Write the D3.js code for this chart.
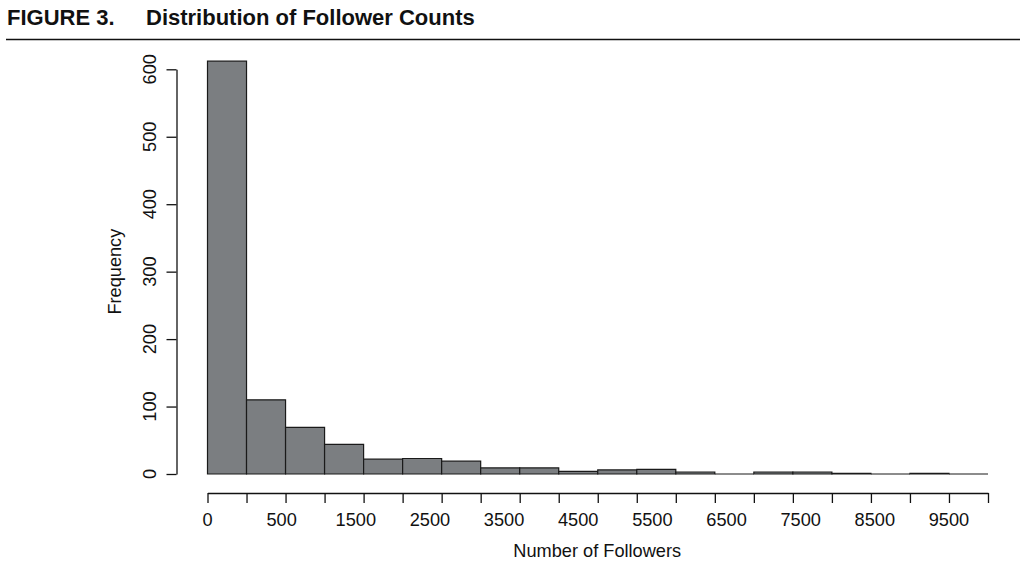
<html>
<head>
  <style>
    body {
        margin: 0;
        background: #ffffff;
        font-family: "Liberation Sans", Arial, Helvetica, sans-serif;
    }
  </style>
</head>
<body>
  <svg id="chart" width="1020" height="585"></svg>

  <script src="https://d3js.org/d3.v7.min.js"></script>
  <script>
    // histogram bins of follower counts (lower edge, upper edge, count)
    var binLow  = [0, 500, 1000, 1500, 2000, 2500, 3000, 3500, 4000, 4500,
                   5000, 5500, 6000, 6500, 7000, 7500, 8000, 8500, 9000, 9500];
    var binHigh = [500, 1000, 1500, 2000, 2500, 3000, 3500, 4000, 4500, 5000,
                   5500, 6000, 6500, 7000, 7500, 8000, 8500, 9000, 9500, 10000];
    var counts  = [612, 110, 69, 44, 22, 23, 19, 9, 9, 4,
                   6, 7, 3, 0, 3, 3, 1, 0, 1, 0];

    var xTicks = [0, 500, 1000, 1500, 2000, 2500, 3000, 3500, 4000, 4500, 5000,
                  5500, 6000, 6500, 7000, 7500, 8000, 8500, 9000, 9500, 10000];
    var xTickLabels = ["0", "500", "1500", "2500", "3500", "4500",
                       "5500", "6500", "7500", "8500", "9500"];
    var yTicks = [0, 100, 200, 300, 400, 500, 600];

    var svg = d3.select("#chart");
    var FS = 18.2;

    // header
    svg.append("text")
      .attr("x", 7).attr("y", 25)
      .attr("font-size", 22).attr("font-weight", "bold")
      .attr("fill", "#111")
      .text("FIGURE 3.");
    svg.append("text")
      .attr("x", 146).attr("y", 25)
      .attr("font-size", 22).attr("font-weight", "bold")
      .attr("fill", "#111")
      .text("Distribution of Follower Counts");
    svg.append("line")
      .attr("x1", 6).attr("x2", 1020)
      .attr("y1", 39.5).attr("y2", 39.5)
      .attr("stroke", "#111").attr("stroke-width", 1.3);

    var x = d3.scaleLinear().domain([0, 10000]).range([207.5, 988]);
    var y = d3.scaleLinear().domain([0, 600]).range([474, 69.3]);

    // bars (paths so that empty bins still draw their flat outline)
    svg.append("g").selectAll("path")
      .data(counts)
      .enter().append("path")
      .attr("d", function(d, i) {
        var x0 = x(binLow[i]), x1 = x(binHigh[i]);
        return "M" + x0 + "," + y(0) + "V" + y(d) + "H" + x1 + "V" + y(0) + "Z";
      })
      .attr("fill", "#7b7e81")
      .attr("stroke", "#1a1a1a")
      .attr("stroke-width", 1.2);

    // x axis
    var xAxis = svg.append("g")
      .attr("transform", "translate(0,493)")
      .call(d3.axisBottom(x).tickValues(xTicks).tickFormat("").tickSize(10).tickSizeOuter(0));
    xAxis.selectAll("path, line").attr("stroke", "#111").attr("stroke-width", 1.3);

    var xLab = d3.scalePoint().domain(xTickLabels).range([x(0), x(9500)]);
    svg.append("g").selectAll("text")
      .data(xTickLabels)
      .enter().append("text")
      .attr("x", function(d) { return xLab(d); })
      .attr("y", 526)
      .attr("text-anchor", "middle")
      .attr("font-size", FS)
      .attr("fill", "#111")
      .text(function(d) { return d; });

    svg.append("text")
      .attr("x", x(5000) - 0.5).attr("y", 557)
      .attr("text-anchor", "middle")
      .attr("font-size", FS)
      .attr("fill", "#111")
      .text("Number of Followers");

    // y axis
    var yAxis = svg.append("g")
      .attr("transform", "translate(176.5,0)")
      .call(d3.axisLeft(y).tickValues(yTicks).tickFormat("").tickSize(10).tickSizeOuter(0));
    yAxis.selectAll("path, line").attr("stroke", "#111").attr("stroke-width", 1.3);

    svg.append("g").selectAll("text")
      .data(yTicks)
      .enter().append("text")
      .attr("transform", function(d) { return "translate(156," + y(d) + ") rotate(-90)"; })
      .attr("text-anchor", "middle")
      .attr("font-size", FS)
      .attr("fill", "#111")
      .text(function(d) { return d; });

    svg.append("text")
      .attr("transform", "translate(121," + y(300) + ") rotate(-90)")
      .attr("text-anchor", "middle")
      .attr("font-size", FS)
      .attr("fill", "#111")
      .text("Frequency");
  </script>
</body>
</html>
